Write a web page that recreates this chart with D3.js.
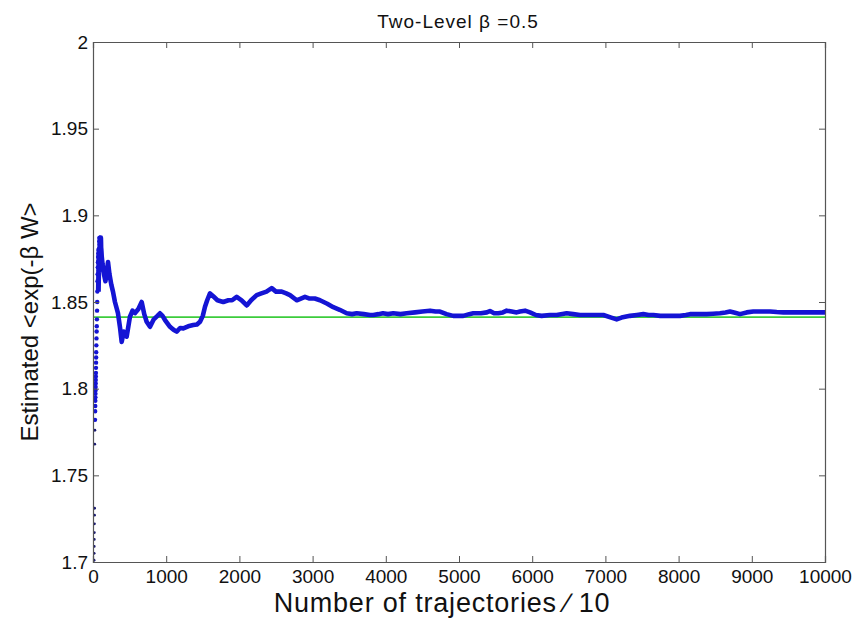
<!DOCTYPE html>
<html><head><meta charset="utf-8">
<script src="https://cdn.jsdelivr.net/npm/d3@7"></script>
<style>
html,body{margin:0;padding:0;background:#fff;}
svg text{font-family:"Liberation Sans",Arial,sans-serif;fill:#111;}
</style></head>
<body><svg id="c" width="857" height="619"></svg>
<script>
// ---- data ----
const titleText = "Two-Level \u03B2 =0.5";
const xLabel = "Number of trajectories \u2215 10";
const yLabel = "Estimated <exp(-\u03B2 W>";
const xTicks = [0,1000,2000,3000,4000,5000,6000,7000,8000,9000,10000];
const yTicks = [1.7,1.75,1.8,1.85,1.9,1.95,2];
const yTickLabels = ["1.7","1.75","1.8","1.85","1.9","1.95","2"];
const referenceValue = 1.8413;

// early scattered estimates (first trajectories)
const earlyX = [1,2,3,4,5,6,7,8,10,12,14,16,17,18,19,20,21,22,23,24,25,26,27,28,29,30,32,34,36,38,40,42,44,46,48,50,52,54,56,58,60,62,64,66,68,70,72,74,76,78,80,82,84,86,88];
const earlyY = [1.701,1.705,1.709,1.713,1.717,1.722,1.727,1.731,1.768,1.776,1.782,1.787,1.790,1.793,1.795,1.797,1.799,1.801,1.803,1.805,1.807,1.809,1.812,1.815,1.818,1.821,1.825,1.829,1.833,1.836,1.840,1.845,1.850,1.856,1.862,1.866,1.870,1.873,1.876,1.878,1.880,1.874,1.868,1.872,1.877,1.881,1.885,1.883,1.879,1.887,1.884,1.878,1.872,1.869,1.873];

// running estimate
const mainX = [90,110,130,150,170,190,205,225,250,273,300,341,370,392,420,460,505,540,574,620,665,700,733,779,830,880,915,950,984,1052,1100,1143,1190,1234,1300,1370,1420,1462,1500,1530,1560,1598,1650,1700,1780,1850,1900,1963,2030,2100,2160,2236,2300,2370,2441,2500,2578,2640,2691,2783,2840,2896,2960,3030,3101,3200,3283,3370,3466,3540,3602,3700,3784,3830,3900,3960,4030,4102,4200,4285,4400,4500,4604,4680,4740,4830,4922,5059,5140,5195,5300,5380,5423,5480,5537,5600,5651,5720,5788,5833,5902,5970,6050,6129,6243,6335,6471,6560,6653,6750,6835,6972,7080,7154,7220,7336,7430,7518,7590,7655,7750,7837,7930,8019,8100,8156,8270,8384,8470,8566,8640,8702,8770,8839,8930,9021,9130,9249,9340,9431,9560,9704,9850,10000];
const mainY = [1.887,1.880,1.872,1.866,1.862,1.868,1.873,1.866,1.860,1.856,1.850,1.8436,1.835,1.827,1.833,1.830,1.8415,1.845,1.8436,1.846,1.850,1.843,1.8386,1.8357,1.840,1.842,1.8435,1.842,1.8396,1.8357,1.834,1.8329,1.835,1.8348,1.836,1.8367,1.837,1.8386,1.842,1.8473,1.851,1.855,1.853,1.851,1.850,1.851,1.851,1.853,1.851,1.848,1.851,1.854,1.855,1.856,1.858,1.856,1.856,1.855,1.854,1.851,1.852,1.853,1.852,1.852,1.851,1.849,1.847,1.8455,1.8435,1.843,1.8435,1.843,1.8425,1.8425,1.843,1.8435,1.843,1.8435,1.843,1.8435,1.844,1.8445,1.845,1.8445,1.8445,1.843,1.842,1.842,1.843,1.8435,1.8435,1.844,1.8448,1.8435,1.8435,1.844,1.845,1.8445,1.844,1.8445,1.845,1.844,1.8425,1.842,1.8425,1.8425,1.8435,1.843,1.8425,1.8425,1.8425,1.8425,1.841,1.840,1.841,1.842,1.8425,1.843,1.8425,1.8425,1.842,1.842,1.842,1.842,1.8425,1.843,1.843,1.843,1.8432,1.8435,1.844,1.8445,1.8438,1.843,1.844,1.8445,1.8445,1.8445,1.8442,1.844,1.844,1.844,1.844,1.844];

// ---- layout ----
const L = 93, T = 42, W = 732, H = 520;
const svg = d3.select("#c");
const x = d3.scaleLinear().domain([0,10000]).range([L, L+W]);
const y = d3.scaleLinear().domain([1.7,2]).range([T+H, T]);
const axisCol = "#555";
const blue = "#1414d4";

svg.append("clipPath").attr("id","clip").append("rect")
  .attr("x",L).attr("y",T).attr("width",W).attr("height",H);

// reference line
svg.append("line").attr("x1",x(0)).attr("x2",x(10000))
  .attr("y1",y(referenceValue)).attr("y2",y(referenceValue))
  .attr("stroke","#3ccc3c").attr("stroke-width",1.6);

const g = svg.append("g").attr("clip-path","url(#clip)");
// early dots
g.selectAll("circle.e").data(earlyX.map((d,i)=>[d,earlyY[i]])).enter()
  .append("circle").attr("class","e")
  .attr("cx",d=>x(d[0])+1).attr("cy",d=>y(d[1]))
  .attr("r",d=>d[1]<1.78?1.4:2.2)
  .attr("fill",d=>d[1]<1.78?"#1a1a70":blue);
// main curve
const mainPts = mainX.map((d,i)=>[d,mainY[i]]);
const nE = 22;
const earlyPts = earlyX.slice(-nE).map((d,i)=>[d,earlyY[earlyX.length-nE+i]]);
g.append("path").datum(earlyPts)
  .attr("d", d3.line().x(d=>x(d[0])+2).y(d=>y(d[1])))
  .attr("fill","none").attr("stroke",blue).attr("stroke-width",5).attr("stroke-linejoin","round");
g.append("path").datum(mainPts)
  .attr("d", d3.line().x(d=>x(d[0])).y(d=>y(d[1])))
  .attr("fill","none").attr("stroke",blue).attr("stroke-width",4.6)
  .attr("stroke-linejoin","round").attr("stroke-linecap","round");

// axes (MATLAB box style, inward ticks)
const tl = 6;
const axB = svg.append("g").attr("transform",`translate(0,${T+H})`)
  .call(d3.axisBottom(x).tickValues(xTicks).tickSize(-tl).tickPadding(8).tickFormat(d3.format("d")));
const axT = svg.append("g").attr("transform",`translate(0,${T})`)
  .call(d3.axisTop(x).tickValues(xTicks).tickSize(-tl).tickFormat(""));
const axL = svg.append("g").attr("transform",`translate(${L},0)`)
  .call(d3.axisLeft(y).tickValues(yTicks).tickSize(-tl).tickPadding(5).tickFormat((d,i)=>yTickLabels[i]));
const axR = svg.append("g").attr("transform",`translate(${L+W},0)`)
  .call(d3.axisRight(y).tickValues(yTicks).tickSize(-tl).tickFormat(""));
[axB,axT,axL,axR].forEach(a=>{
  a.select(".domain").attr("stroke",axisCol).attr("stroke-width",1.2);
  a.selectAll(".tick line").attr("stroke",axisCol);
  a.selectAll("text").style("font-size","19px").attr("fill","#222")
    .style("font-family","'Liberation Sans',Arial,sans-serif");
});

// title
svg.append("text").attr("x",458).attr("y",28).attr("text-anchor","middle")
  .style("font-size","19px").style("letter-spacing","1px").text(titleText);
// x label
svg.append("text").attr("x",442).attr("y",612).attr("text-anchor","middle")
  .style("font-size","27px").style("letter-spacing","0.8px").text(xLabel);
// y label
svg.append("text").attr("transform",`translate(38,${T+H/2+20}) rotate(-90)`)
  .attr("text-anchor","middle").style("font-size","24px").text(yLabel);
</script></body></html>
